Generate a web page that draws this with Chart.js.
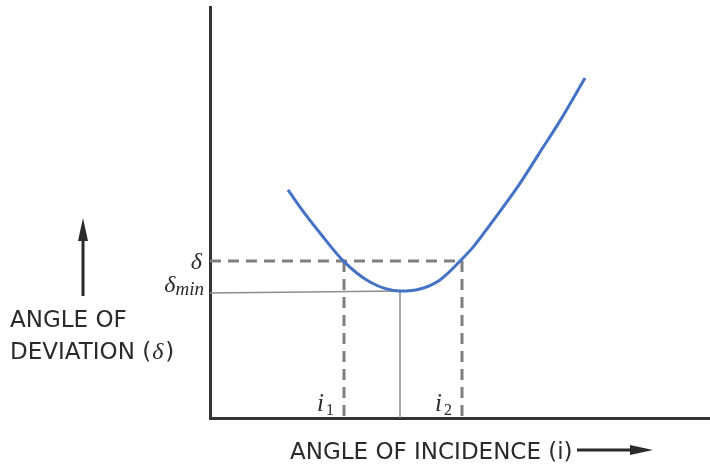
<!DOCTYPE html>
<html>
<head>
<meta charset="utf-8">
<script src="https://cdn.jsdelivr.net/npm/chart.js@4.4.1/dist/chart.umd.min.js"></script>
<style>
  body { margin: 0; background: #fff; }
  #wrap { width: 710px; height: 465px; }
</style>
</head>
<body>
<div id="wrap"><canvas id="prism" width="710" height="465"></canvas></div>
<script>
// deviation curve through a prism, sampled by eye (x: incidence, y: deviation)
var incidence = [15.6, 18, 22, 26.6, 32, 38, 42, 46, 50.1, 52.7, 56, 62, 66, 70, 75];
var deviation = [55.5, 51.3, 45.0, 38.3, 33.1, 30.9, 31.4, 33.6, 38.3, 41.7, 47.0, 57.1, 64.7, 72.3, 82.7];

// marked levels
var deltaLevel = 38.2;
var deltaMin = 30.9;
var i1 = 26.8;
var i2 = 50.4;
var iMin = 38;

var curve = incidence.map(function(x, k) { return {x: x, y: deviation[k]}; });

function guide(points, dashed) {
    return {
        data: points,
        borderColor: dashed ? '#7f7f7f' : '#8c8c8c',
        borderWidth: dashed ? 3 : 1.5,
        borderDash: dashed ? [11, 7] : [],
        pointRadius: 0,
        tension: 0,
        fill: false
    };
}

// text and arrows around the axes
var labels = {
    id: 'labels',
    afterDraw: function(chart) {
        var ctx = chart.ctx;
        var xs = chart.scales.x, ys = chart.scales.y;
        ctx.save();
        ctx.fillStyle = '#2b2b2b';
        ctx.textBaseline = 'alphabetic';

        // delta labels on the y axis
        var yd = ys.getPixelForValue(deltaLevel);
        var ym = ys.getPixelForValue(deltaMin);
        ctx.textAlign = 'right';
        ctx.font = 'italic 24px "Liberation Serif"';
        ctx.fillText('δ', 202, yd + 8);
        ctx.font = 'italic 19px "Liberation Serif"';
        var wMin = ctx.measureText('min').width;
        ctx.fillText('min', 204, ym + 4);
        ctx.font = 'italic 24px "Liberation Serif"';
        ctx.fillText('δ', 204 - wMin, ym + 1);

        // incidence labels near the x axis
        ctx.textAlign = 'left';
        [[i1, '1'], [i2, '2']].forEach(function(p) {
            var px = xs.getPixelForValue(p[0]);
            ctx.font = 'italic 25px "Liberation Serif"';
            ctx.fillText('i', px - 27, 411);
            ctx.font = '16px "Liberation Serif"';
            ctx.fillText(p[1], px - 18, 415);
        });

        // axis titles
        ctx.font = '23px "DejaVu Sans"';
        ctx.fillText('ANGLE OF', 10, 327);
        ctx.fillText('DEVIATION (', 10, 359);
        var wDev = ctx.measureText('DEVIATION (').width;
        ctx.font = 'italic 24px "Liberation Serif"';
        ctx.fillText('δ', 11 + wDev, 359);
        var wD = ctx.measureText('δ').width;
        ctx.font = '23px "DejaVu Sans"';
        ctx.fillText(')', 13 + wDev + wD, 359);

        ctx.fillText('ANGLE OF INCIDENCE (i)', 290, 459);

        // arrows
        ctx.strokeStyle = '#2b2b2b';
        ctx.lineWidth = 3;
        ctx.beginPath();
        ctx.moveTo(83, 296);
        ctx.lineTo(83, 236);
        ctx.stroke();
        ctx.beginPath();
        ctx.moveTo(83, 218);
        ctx.lineTo(78, 241);
        ctx.lineTo(88, 241);
        ctx.closePath();
        ctx.fill();

        ctx.beginPath();
        ctx.moveTo(577, 450);
        ctx.lineTo(636, 450);
        ctx.stroke();
        ctx.beginPath();
        ctx.moveTo(653, 450);
        ctx.lineTo(630, 445);
        ctx.lineTo(630, 455);
        ctx.closePath();
        ctx.fill();
        ctx.restore();
    }
};

new Chart(document.getElementById('prism'), {
    type: 'line',
    data: {
        datasets: [
            {
                data: curve,
                borderColor: '#4472c4',
                borderWidth: 3,
                pointRadius: 0,
                cubicInterpolationMode: 'monotone',
                fill: false
            },
            guide([{x: 0, y: deltaLevel}, {x: i2, y: deltaLevel}], true),
            guide([{x: i1, y: deltaLevel}, {x: i1, y: 0}], true),
            guide([{x: i2, y: deltaLevel}, {x: i2, y: 0}], true),
            guide([{x: 0, y: deltaMin - 0.5}, {x: iMin, y: deltaMin}], false),
            guide([{x: iMin, y: deltaMin}, {x: iMin, y: 0}], false)
        ]
    },
    options: {
        responsive: false,
        devicePixelRatio: 1,
        animation: false,
        layout: { padding: { left: 202, right: 0, top: 7, bottom: 39 } },
        plugins: { legend: { display: false }, tooltip: { enabled: false } },
        scales: {
            x: {
                type: 'linear', min: 0, max: 100,
                ticks: { display: false },
                grid: { display: false },
                border: { color: '#333', width: 3 }
            },
            y: {
                min: 0, max: 100,
                ticks: { display: false },
                grid: { display: false },
                border: { color: '#333', width: 3 }
            }
        }
    },
    plugins: [labels]
});
</script>
</body>
</html>
